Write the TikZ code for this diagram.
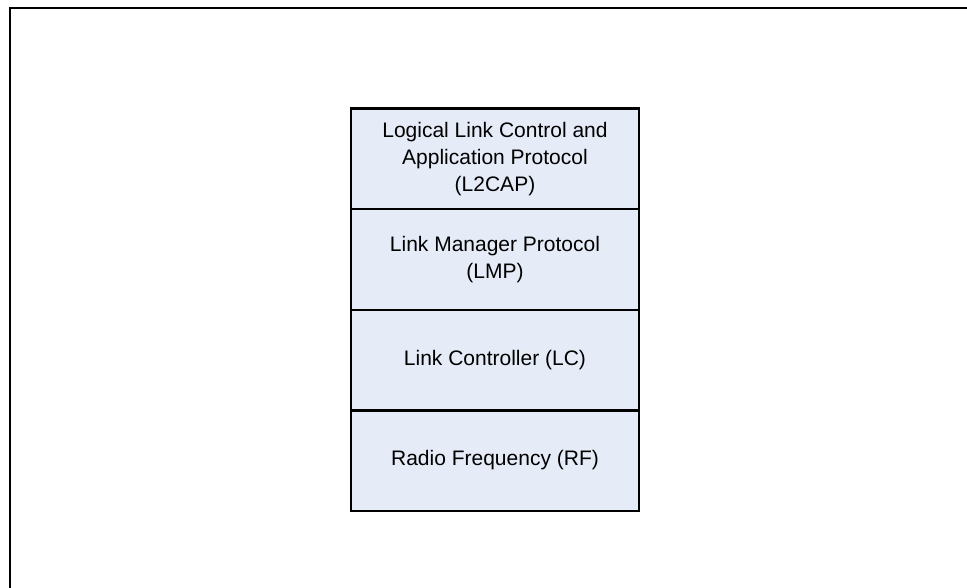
\documentclass[tikz,border=0pt]{standalone}
\usepackage{fontspec}
\setmainfont{Liberation Sans}
\usetikzlibrary{positioning}
\definecolor{layerfill}{HTML}{E6ECF7}
\tikzstyle{layer} = [rectangle, draw, fill=layerfill, line width=2.5pt, outer sep=0pt, minimum width=288pt, minimum height=100.5pt, align=center, font=\fontsize{21}{27}\selectfont]
\tikzstyle{frame} = [draw, line width=2.2pt]

\begin{document}
\begin{tikzpicture}[x=1pt, y=-1pt]
			\useasboundingbox (0,0) rectangle (967,588);
			\clip (0,0) rectangle (967,588);
			\path [frame] (10,8) rectangle (990,610);
			
			\node [layer] (l2cap) at (495,159) {Logical Link Control and\\Application Protocol\\(L2CAP)};
			\node [layer, below=0pt of l2cap] (lmp) {Link Manager Protocol\\(LMP)};
			\node [layer, below=0pt of lmp] (lc) {Link Controller (LC)};
			\node [layer, below=0pt of lc] (rf) {Radio Frequency (RF)};
		\end{tikzpicture}
\end{document}
